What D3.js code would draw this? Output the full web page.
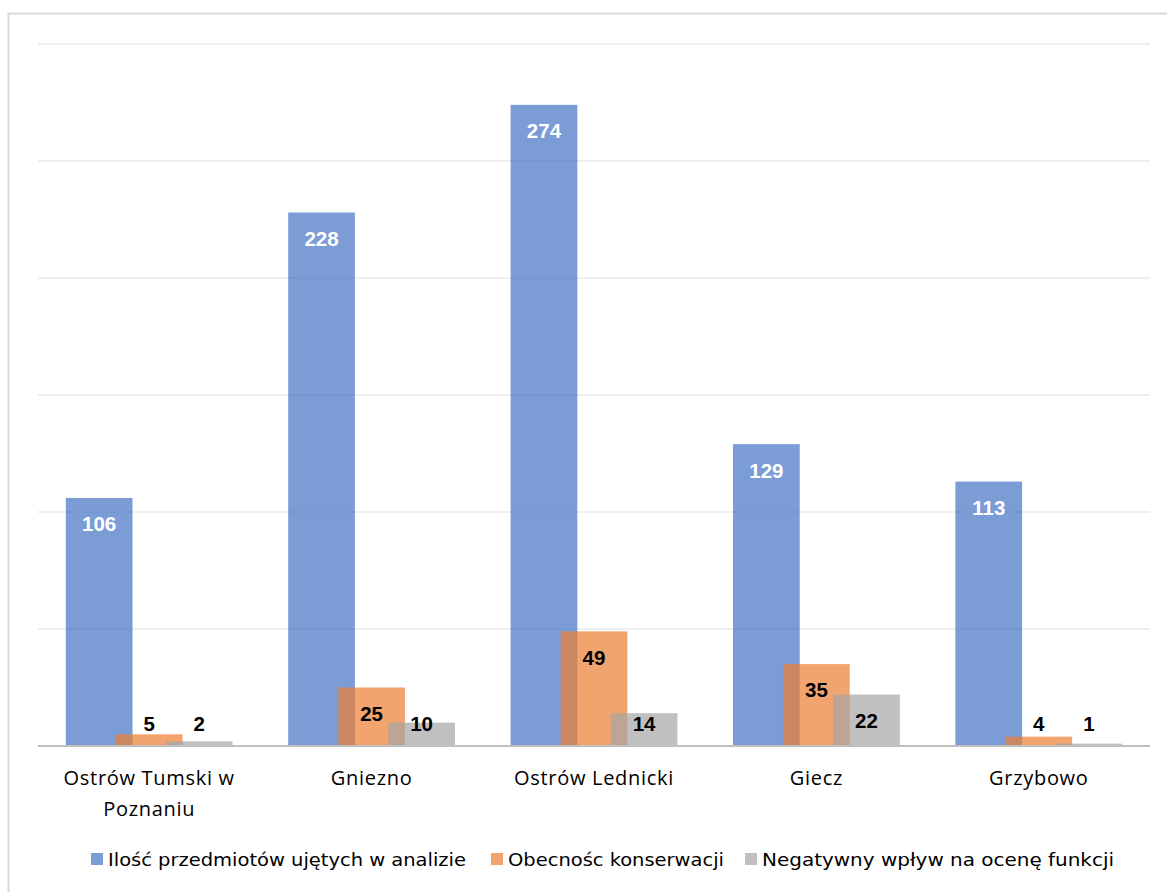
<!DOCTYPE html>
<html>
<head>
<meta charset="utf-8">
<script src="https://cdn.jsdelivr.net/npm/d3@7/dist/d3.min.js"></script>
<style>
  html, body { margin: 0; padding: 0; background: #fff; }
  svg { display: block; }
</style>
</head>
<body>
<svg id="chart" width="1167" height="892"></svg>
<script>
const categories = [["Ostrów Tumski w", "Poznaniu"], ["Gniezno"], ["Ostrów Lednicki"], ["Giecz"], ["Grzybowo"]];
const seriesNames = ["Ilość przedmiotów ujętych w analizie", "Obecnośc konserwacji", "Negatywny wpływ na ocenę funkcji"];
const seriesItems = [106, 228, 274, 129, 113];
const seriesConservation = [5, 25, 49, 35, 4];
const seriesNegative = [2, 10, 14, 22, 1];
const yTicks = [0, 50, 100, 150, 200, 250, 300];
const colors = ["#4472C4", "#ED7D31", "#A5A5A5"];

const allSeries = [seriesItems, seriesConservation, seriesNegative];

const svg = d3.select("#chart");
const W = 1167, H = 892;

// outer frame
svg.append("rect").attr("x", 8.5).attr("y", 13.5).attr("width", W + 10).attr("height", H + 10)
  .attr("fill", "none").attr("stroke", "#d9d9d9").attr("stroke-width", 2);

const plot = { left: 38, right: 1150, top: 44, bottom: 746 };

const x = d3.scaleBand().domain(d3.range(categories.length)).range([plot.left, plot.right]).paddingInner(0).paddingOuter(0);
const y = d3.scaleLinear().domain([0, 300]).range([plot.bottom, plot.top]);

// gridlines
svg.append("g").selectAll("line").data(yTicks.filter(t => t > 0)).join("line")
  .attr("x1", plot.left).attr("x2", plot.right)
  .attr("y1", d => y(d)).attr("y2", d => y(d))
  .attr("stroke", "#efefef").attr("stroke-width", 2);

const bw = x.bandwidth() * 0.3;
const step = bw * 0.75;
const groupW = bw + 2 * step;

const bars = svg.append("g");
allSeries.forEach((vals, si) => {
  bars.append("g").selectAll("rect").data(vals).join("rect")
    .attr("x", (d, i) => x(i) + x.bandwidth() / 2 - groupW / 2 + si * step)
    .attr("y", d => y(d))
    .attr("width", bw)
    .attr("height", d => y(0) - y(d))
    .attr("fill", colors[si])
    .attr("fill-opacity", 0.7);
});

// axis baseline
svg.append("line").attr("x1", plot.left).attr("x2", plot.right)
  .attr("y1", y(0)).attr("y2", y(0)).attr("stroke", "#bfbfbf").attr("stroke-width", 2);

// value labels
allSeries.forEach((vals, si) => {
  svg.append("g").selectAll("text").data(vals).join("text")
    .attr("x", (d, i) => x(i) + x.bandwidth() / 2 - groupW / 2 + si * step + bw / 2)
    .attr("y", d => Math.min(y(d) + 26, y(0) - 22))
    .attr("dy", "0.36em")
    .attr("text-anchor", "middle")
    .attr("font-family", "'Liberation Sans', Arial, sans-serif")
    .attr("font-weight", "bold")
    .attr("font-size", 20.5)
    .attr("fill", si === 0 ? "#ffffff" : "#000000")
    .text(d => d);
});

// category labels
const catG = svg.append("g");
categories.forEach((lines, i) => {
  const t = catG.append("text")
    .attr("x", x(i) + x.bandwidth() / 2)
    .attr("y", 778)
    .attr("text-anchor", "middle")
    .attr("font-family", "'Open Sans', 'Noto Sans', sans-serif")
    .attr("font-size", 20)
    .attr("letter-spacing", 0.7)
    .attr("fill", "#000");
  lines.forEach((ln, li) => {
    t.append("tspan").attr("x", x(i) + x.bandwidth() / 2).attr("y", 778 + li * 30.5).attr("dy", "0.36em").text(ln);
  });
});

// legend
const legendItems = [
  { sq: 91, tx: 108, len: 358 },
  { sq: 491, tx: 508, len: 216 },
  { sq: 745, tx: 762, len: 352 }
];
const lg = svg.append("g");
seriesNames.forEach((name, i) => {
  lg.append("rect").attr("x", legendItems[i].sq).attr("y", 853).attr("width", 12).attr("height", 12)
    .attr("fill", colors[i]).attr("fill-opacity", 0.7);
  lg.append("text").attr("x", legendItems[i].tx).attr("y", 859).attr("dy", "0.36em")
    .attr("font-family", "'DejaVu Sans Condensed', 'Liberation Sans Narrow', 'Liberation Sans', sans-serif")
    .attr("font-size", 18.5)
    .attr("textLength", legendItems[i].len)
    .attr("lengthAdjust", "spacingAndGlyphs")
    .attr("fill", "#000")
    .text(name);
});
</script>
</body>
</html>
